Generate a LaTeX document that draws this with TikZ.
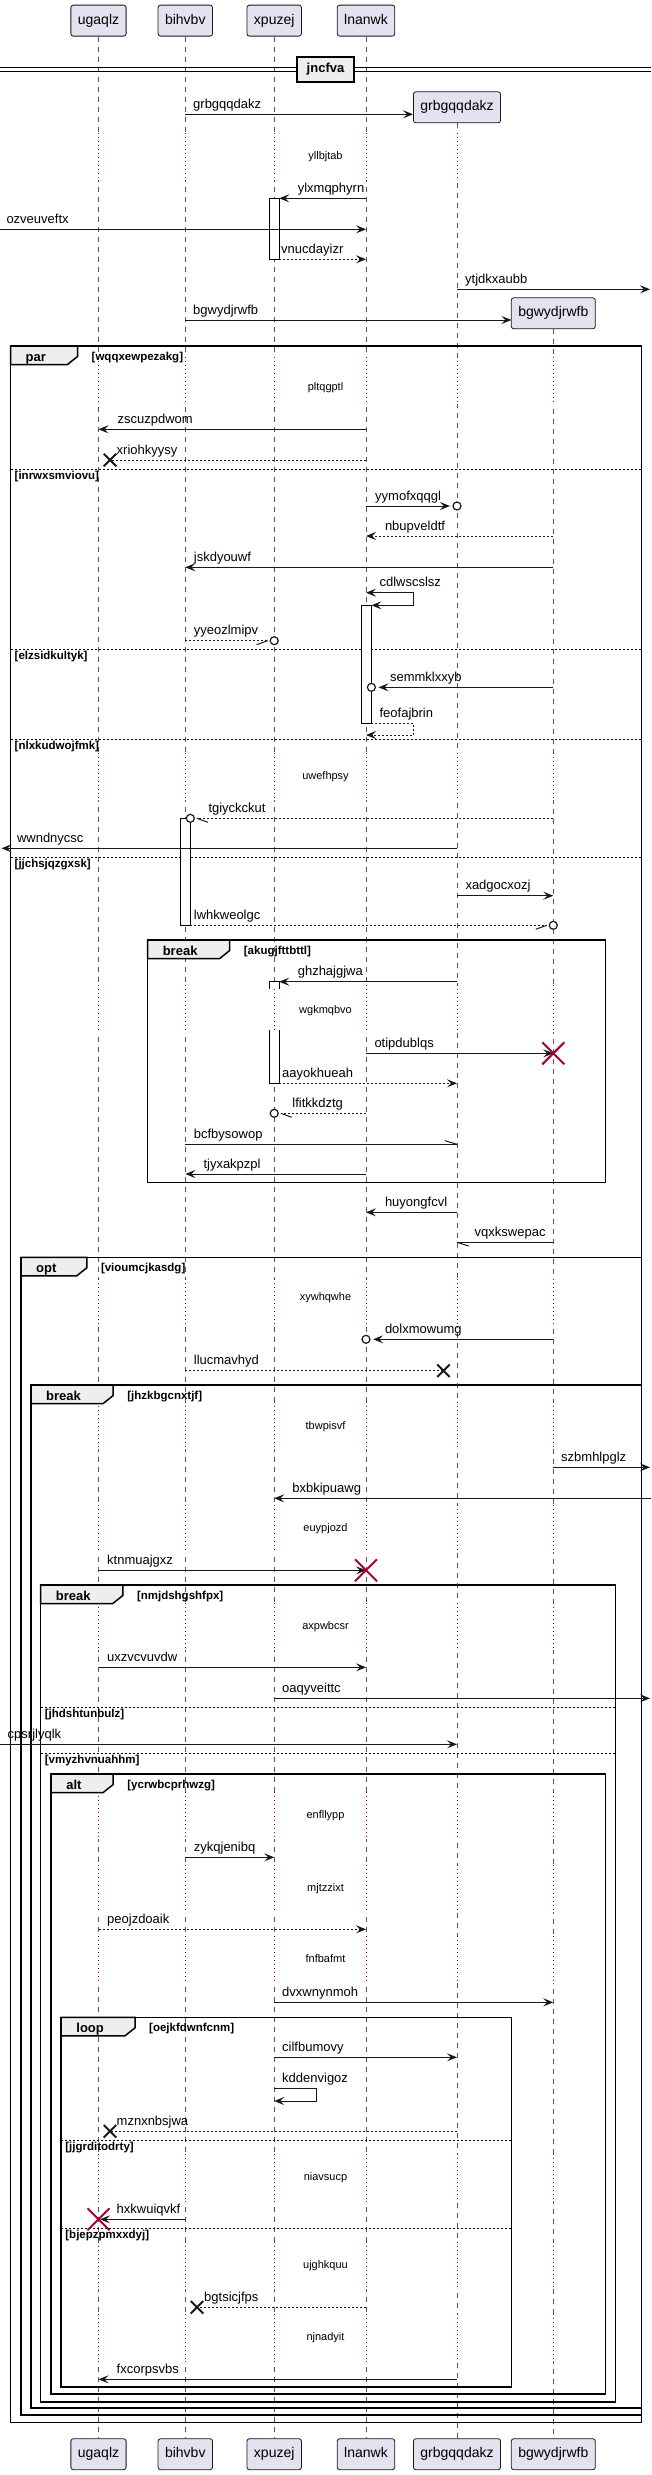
\documentclass[tikz,border=0pt]{standalone}
\usepackage{fontspec}
\setmainfont{Liberation Sans}
\usetikzlibrary{arrows.meta,shapes.misc}
\definecolor{pfill}{HTML}{E2E2F0}
\definecolor{pdraw}{HTML}{181818}
\definecolor{tabfill}{HTML}{EEEEEE}
\definecolor{dred}{HTML}{A80036}
\definecolor{lline}{HTML}{555555}
\def\xU{98.5}\def\xB{185.3}\def\xX{274.2}\def\xL{366}\def\xG{457}\def\xW{553.3}
\tikzset{
  part/.style={draw=pdraw, fill=pfill, line width=0.8pt, rounded corners=2.5pt, minimum height=31pt, inner xsep=7pt, inner ysep=0pt, font=\fontsize{14}{16}\selectfont, text height=10pt, text depth=3pt},
  life/.style={draw=lline, line width=0.6pt, dash pattern=on 5pt off 5pt},
  dly/.style={draw=dred, line width=0.8pt, dash pattern=on 1pt off 3pt},
  dlytext/.style={font=\fontsize{11}{13}\selectfont, anchor=base, inner sep=0pt},
  mlab/.style={font=\fontsize{13}{15}\selectfont, anchor=base west, inner sep=0pt},
  sol/.style={draw=pdraw, line width=1pt, ->},
  das/.style={sol, dash pattern=on 2pt off 2pt},
  plain/.style={draw=pdraw, line width=1pt},
  plaind/.style={plain, dash pattern=on 2pt off 2pt},
  frm/.style={draw=black, line width=1.5pt},
  tabsh/.style={draw=black, line width=1.5pt, fill=tabfill},
  glab/.style={font=\bfseries\fontsize{13}{15}\selectfont, anchor=base west, inner sep=0pt},
  cond/.style={font=\bfseries\fontsize{11.5}{13}\selectfont, anchor=base west, inner sep=0pt},
  sep/.style={draw=black, line width=1pt, dash pattern=on 2pt off 2pt},
  act/.style={draw=black, fill=white, line width=1pt},
  ecirc/.style={circle, draw=pdraw, fill=white, line width=1.2pt, minimum size=8pt, inner sep=0pt},
  lostx/.style={cross out, draw=pdraw, line width=2pt, minimum size=10.5pt, inner sep=0pt},
  dstx/.style={cross out, draw=dred, line width=2pt, minimum size=20pt, inner sep=0pt},
}
\newcommand\mymsg[7]{%
  \coordinate (#1a) at (#2,#4);
  \coordinate (#1b) at (#3,#4);
  \draw[#5] (#1a) -- (#1b);
  \node[mlab] (#1l) at (#6,#4-6) {#7};}
\newcommand\mylab[4]{\node[mlab] (#1) at (#2,#3-6) {#4};}
\newcommand\dly[5]{%
  \foreach \lx in {#5} {
    \draw[white, line width=2.5pt] (\lx,#2-23.5) -- (\lx,#2+23.5);
    \draw[dly] (\lx,#2-23.5) -- (\lx,#2+23.5);}
  \node[dlytext] (#1) at (325.5,#3+3) {#4};}
\newcommand\grp[8]{%
  \draw[frm] (#1,#2) rectangle (#3,#4);
  \draw[tabsh] (#1,#2) -- (#5,#2) -- (#5,#2+10.5) -- (#5-10,#2+18.5) -- (#1,#2+18.5) -- cycle;
  \node[glab] (#8l) at (#1+15,#2+15.5) {#6};
  \node[cond] (#8c) at (#5+14,#2+14.5) {#7};}
\newcommand\sepr[5]{%
  \draw[sep] (#2,#4) -- (#3,#4);
  \node[cond] (#1) at (#2+4,#4+10.5) {#5};}
\begin{document}
\begin{tikzpicture}[x=1pt,y=-1pt,>={Stealth[length=10pt,width=8pt,inset=4pt]}]
\useasboundingbox (0,0) rectangle (651,2475);
\fill[white] (0,0) rectangle (651,2475);
% participants
\node[part] (pU) at (\xU,20.65) {ugaqlz};
\node[part] (pB) at (\xB,20.65) {bihvbv};
\node[part] (pX) at (\xX,20.65) {xpuzej};
\node[part] (pL) at (\xL,20.65) {lnanwk};
\node[part] (pG) at (\xG,107.3) {grbgqqdakz};
\node[part] (pW) at (\xW,313.3) {bgwydjrwfb};
\node[part] (qU) at (\xU,2454.2) {ugaqlz};
\node[part] (qB) at (\xB,2454.2) {bihvbv};
\node[part] (qX) at (\xX,2454.2) {xpuzej};
\node[part] (qL) at (\xL,2454.2) {lnanwk};
\node[part] (qG) at (\xG,2454.2) {grbgqqdakz};
\node[part] (qW) at (\xW,2454.2) {bgwydjrwfb};
% lifelines
\foreach \a in {U,B,X,L,G,W} {\draw[life] (p\a.south) -- (q\a.north);}
% delays
\dly{d1}{156.7}{156.7}{yllbjtab}{\xU,\xB,\xX,\xL,\xG}
\dly{d2}{380}{387.7}{pltqgptl}{\xU,\xB,\xX,\xL,\xG,\xW}
\dly{d3}{776.5}{776.7}{uwefhpsy}{\xU,\xB,\xX,\xL,\xG,\xW}
\dly{d4}{1008}{1010.7}{wgkmqbvo}{\xU,\xB,\xX,\xL,\xG,\xW}
\dly{d5}{1302}{1297.3}{xywhqwhe}{\xU,\xB,\xX,\xL,\xG,\xW}
\dly{d6}{1425}{1426}{tbwpisvf}{\xU,\xB,\xX,\xL,\xG,\xW}
\dly{d7}{1528.3}{1528.3}{euypjozd}{\xU,\xB,\xX,\xL,\xG,\xW}
\dly{d8}{1626}{1626}{axpwbcsr}{\xU,\xB,\xX,\xL,\xG,\xW}
\dly{d9}{1815.7}{1815.7}{enfllypp}{\xU,\xB,\xX,\xL,\xG,\xW}
\dly{d10}{1888.3}{1888.3}{mjtzzixt}{\xU,\xB,\xX,\xL,\xG,\xW}
\dly{d11}{1959.3}{1959.3}{fnfbafmt}{\xU,\xB,\xX,\xL,\xG,\xW}
\dly{d12}{2177.3}{2177.3}{niavsucp}{\xU,\xB,\xX,\xL,\xG,\xW}
\dly{d13}{2265}{2265}{ujghkquu}{\xU,\xB,\xX,\xL,\xG,\xW}
\dly{d14}{2337.3}{2337.3}{njnadyit}{\xU,\xB,\xX,\xL,\xG,\xW}
% separator
\coordinate (j1a) at (0,67.8); \coordinate (j1b) at (651,67.8);
\coordinate (j2a) at (0,71.3); \coordinate (j2b) at (651,71.3);
\draw[line width=1.2pt] (j1a) -- (j1b);
\draw[line width=1.2pt] (j2a) -- (j2b);
\node[draw, line width=2pt, fill=tabfill, minimum width=57.4pt, minimum height=24.7pt, inner sep=0pt, font=\bfseries\fontsize{13}{15}\selectfont] (jnc) at (325.5,69.35) {jncfva};
% frames
\grp{10.5}{346}{641.4}{2422.7}{77.5}{par}{[wqqxewpezakg]}{g1}
\sepr{s1}{10.5}{641.4}{469.3}{[inrwxsmviovu]}
\sepr{s2}{10.5}{641.4}{649.3}{[elzsidkultyk]}
\sepr{s3}{10.5}{641.4}{739.3}{[nlxkudwojfmk]}
\sepr{s4}{10.5}{641.4}{857.3}{[jjchsjqzgxsk]}
\grp{147.6}{940}{605.3}{1182.7}{229.7}{break}{[akugjfttbttl]}{g2}
\grp{21}{1257.3}{641.4}{2415}{86.8}{opt}{[vioumcjkasdg]}{g3}
\grp{31}{1385}{641.4}{2408}{113.2}{break}{[jhzkbgcnxtjf]}{g4}
\grp{40.7}{1585}{615.4}{2402}{122.8}{break}{[nmjdshgshfpx]}{g5}
\sepr{s5}{40.7}{615.4}{1707.3}{[jhdshtunbulz]}
\sepr{s6}{40.7}{615.4}{1753.3}{[vmyzhvnuahhm]}
\grp{51.1}{1774}{605.3}{2394}{113.2}{alt}{[ycrwbcprhwzg]}{g6}
\grp{61.2}{2017.3}{511.4}{2387}{135}{loop}{[oejkfdwnfcnm]}{g7}
\sepr{s7}{61.2}{511.4}{2140.3}{[jjgrditodrty]}
\sepr{s8}{61.2}{511.4}{2228.3}{[bjepzpmxxdyj]}
% activations
\draw[act] (269,198.3) rectangle (279.2,259.3);
\draw[act] (361.4,605.3) rectangle (371.4,723.3);
\draw[act] (180.3,818.3) rectangle (190.3,925.3);
\draw[act] (269,989.3) -- (269,981.7) -- (279.2,981.7) -- (279.2,989.3);
\draw[act] (269,1030) -- (269,1083.3) -- (279.2,1083.3) -- (279.2,1030);
% messages
\mymsg{m1}{\xB}{413}{114.3}{sol}{193}{grbgqqdakz}
\mymsg{m3}{\xL}{279.2}{198.3}{sol}{297.6}{ylxmqphyrn}
\mymsg{m4}{0}{\xL}{229.3}{sol}{6.3}{ozveuveftx}
\mymsg{m5}{279.2}{\xL}{259.3}{das}{281}{vnucdayizr}
\mymsg{m6}{\xG}{650}{289.3}{sol}{465}{ytjdkxaubb}
\mymsg{m7}{\xB}{511.4}{320}{sol}{193}{bgwydjrwfb}
\mymsg{m8}{\xL}{\xU}{429.3}{sol}{117.4}{zscuzpdwom}
% xriohkyysy
\coordinate (m9a) at (\xL,460);
\node[lostx] (m9x) at (110,460) {};
\draw[plaind] (m9a) -- (m9x.center);
\mylab{m9l}{116.5}{460}{xriohkyysy}
% yymofxqqgl
\coordinate (m10a) at (\xL,506);
\node[ecirc] (m10c) at (\xG,506) {};
\draw[sol] (m10a) -- ([xshift=-2.5pt]m10c.west);
\mylab{m10l}{375}{506}{yymofxqqgl}
\mymsg{m11}{\xW}{\xL}{536}{das}{384.8}{nbupveldtf}
\mymsg{m12}{\xW}{\xB}{567.3}{sol}{193.7}{jskdyouwf}
% cdlwscslsz self
\coordinate (m13a) at (\xL,592.7);
\coordinate (m13b) at (413.7,592.7);
\coordinate (m13c) at (413.7,605.3);
\coordinate (m13d) at (371.4,605.3);
\draw[plain,<->] (m13a) -- (m13b) -- (m13c) -- (m13d);
\mylab{m13l}{379.4}{592.7}{cdlwscslsz}
% yyeozlmipv
\coordinate (m14a) at (\xB,640.7);
\node[ecirc] (m14c) at (\xX,640.7) {};
\coordinate (m14t) at ([xshift=-2pt]m14c.west);
\draw[plaind] (m14a) -- (m14t);
\draw[plain] (m14t) -- ++(-11,4);
\mylab{m14l}{193.7}{640.7}{yyeozlmipv}
% semmklxxyb
\coordinate (m15a) at (\xW,687.3);
\node[ecirc] (m15c) at (371.4,687.3) {};
\draw[sol] (m15a) -- ([xshift=2.5pt]m15c.east);
\mylab{m15l}{389.9}{687.3}{semmklxxyb}
% feofajbrin self
\coordinate (m16a) at (371.4,723.3);
\coordinate (m16b) at (413.7,723.3);
\coordinate (m16c) at (413.7,735);
\coordinate (m16d) at (\xL,735);
\draw[das] (m16a) -- (m16b) -- (m16c) -- (m16d);
\mylab{m16l}{379.4}{723.3}{feofajbrin}
% tgiyckckut
\coordinate (m17a) at (\xW,818.3);
\node[ecirc] (m17c) at (190.3,818.3) {};
\coordinate (m17t) at ([xshift=2pt]m17c.east);
\draw[plaind] (m17a) -- (m17t);
\draw[plain] (m17t) -- ++(11,4);
\mylab{m17l}{208.3}{818.3}{tgiyckckut}
\mymsg{m18}{\xG}{1.5}{848.3}{sol}{16.8}{wwndnycsc}
\mymsg{m19}{\xG}{\xW}{895.7}{sol}{465.3}{xadgocxozj}
% lwhkweolgc
\coordinate (m20a) at (190.3,925.3);
\node[ecirc] (m20c) at (\xW,925.3) {};
\coordinate (m20t) at ([xshift=-2pt]m20c.west);
\draw[plaind] (m20a) -- (m20t);
\draw[plain] (m20t) -- ++(-11,4);
\mylab{m20l}{193.7}{925.3}{lwhkweolgc}
\mymsg{m21}{\xG}{279.2}{981.7}{sol}{297.6}{ghzhajgjwa}
% otipdublqs
\mymsg{m22}{\xL}{\xW}{1053.3}{sol}{374.3}{otipdublqs}
\node[dstx] (m22x) at (\xW,1053.3) {};
\mymsg{m23}{279.2}{\xG}{1083.3}{das}{282}{aayokhueah}
% lfitkkdztg
\coordinate (m24a) at (\xL,1113.3);
\node[ecirc] (m24c) at (\xX,1113.3) {};
\coordinate (m24t) at ([xshift=2pt]m24c.east);
\draw[plaind] (m24a) -- (m24t);
\draw[plain] (m24t) -- ++(11,4);
\mylab{m24l}{292.2}{1113.3}{lfitkkdztg}
% bcfbysowop
\mymsg{m25}{\xB}{\xG}{1144.3}{plain}{193.7}{bcfbysowop}
\draw[plain] (m25b) -- ++(-12,-3.6);
\mymsg{m26}{\xL}{\xB}{1174}{sol}{203.3}{tjyxakpzpl}
\mymsg{m27}{\xG}{\xL}{1212.3}{sol}{384.8}{huyongfcvl}
% vqxkswepac
\mymsg{m28}{\xW}{\xG}{1242.3}{plain}{474.5}{vqxkswepac}
\draw[plain] (m28b) -- ++(11.7,3.7);
% dolxmowumg
\coordinate (m29a) at (\xW,1339.3);
\node[ecirc] (m29c) at (\xL,1339.3) {};
\draw[sol] (m29a) -- ([xshift=2.5pt]m29c.east);
\mylab{m29l}{384.8}{1339.3}{dolxmowumg}
% llucmavhyd
\coordinate (m30a) at (\xB,1370.7);
\node[lostx] (m30x) at (443.5,1370.7) {};
\draw[plaind] (m30a) -- (m30x.center);
\mylab{m30l}{193.7}{1370.7}{llucmavhyd}
\mymsg{m31}{\xW}{650}{1467.3}{sol}{561}{szbmhlpglz}
\mymsg{m32}{651}{\xX}{1498.3}{sol}{292.2}{bxbkipuawg}
\mymsg{m33}{\xU}{\xL}{1570.3}{sol}{107}{ktnmuajgxz}
\node[dstx] (m33x) at (\xL,1570.3) {};
\mymsg{m34}{\xU}{\xL}{1667.3}{sol}{107}{uxzvcvuvdw}
\mymsg{m35}{\xX}{650}{1698.3}{sol}{282}{oaqyveittc}
\mymsg{m36}{0}{\xG}{1744.3}{sol}{7.5}{cpsrjlyqlk}
\mymsg{m37}{\xB}{\xX}{1857.3}{sol}{193.7}{zykqjenibq}
\mymsg{m38}{\xU}{\xL}{1929.3}{das}{107}{peojzdoaik}
\mymsg{m39}{\xX}{\xW}{2002.3}{sol}{282}{dvxwnynmoh}
\mymsg{m40}{\xX}{\xG}{2057.3}{sol}{282}{cilfbumovy}
% kddenvigoz self
\coordinate (m41a) at (\xX,2088.3);
\coordinate (m41b) at (316.5,2088.3);
\coordinate (m41c) at (316.5,2101);
\coordinate (m41d) at (\xX,2101);
\draw[sol] (m41a) -- (m41b) -- (m41c) -- (m41d);
\mylab{m41l}{282}{2088.3}{kddenvigoz}
% mznxnbsjwa
\coordinate (m42a) at (\xG,2131.3);
\node[lostx] (m42x) at (110,2131.3) {};
\draw[plaind] (m42a) -- (m42x.center);
\mylab{m42l}{116.5}{2131.3}{mznxnbsjwa}
% hxkwuiqvkf
\mymsg{m43}{\xB}{100}{2219.3}{sol}{116.5}{hxkwuiqvkf}
\node[dstx] (m43x) at (\xU,2219.3) {};
% bgtsicjfps
\coordinate (m44a) at (\xL,2307.3);
\node[lostx] (m44x) at (197,2307.3) {};
\draw[plaind] (m44a) -- (m44x.center);
\mylab{m44l}{204}{2307.3}{bgtsicjfps}
\mymsg{m45}{\xG}{\xU}{2379.3}{sol}{116.5}{fxcorpsvbs}
\end{tikzpicture}
\end{document}
